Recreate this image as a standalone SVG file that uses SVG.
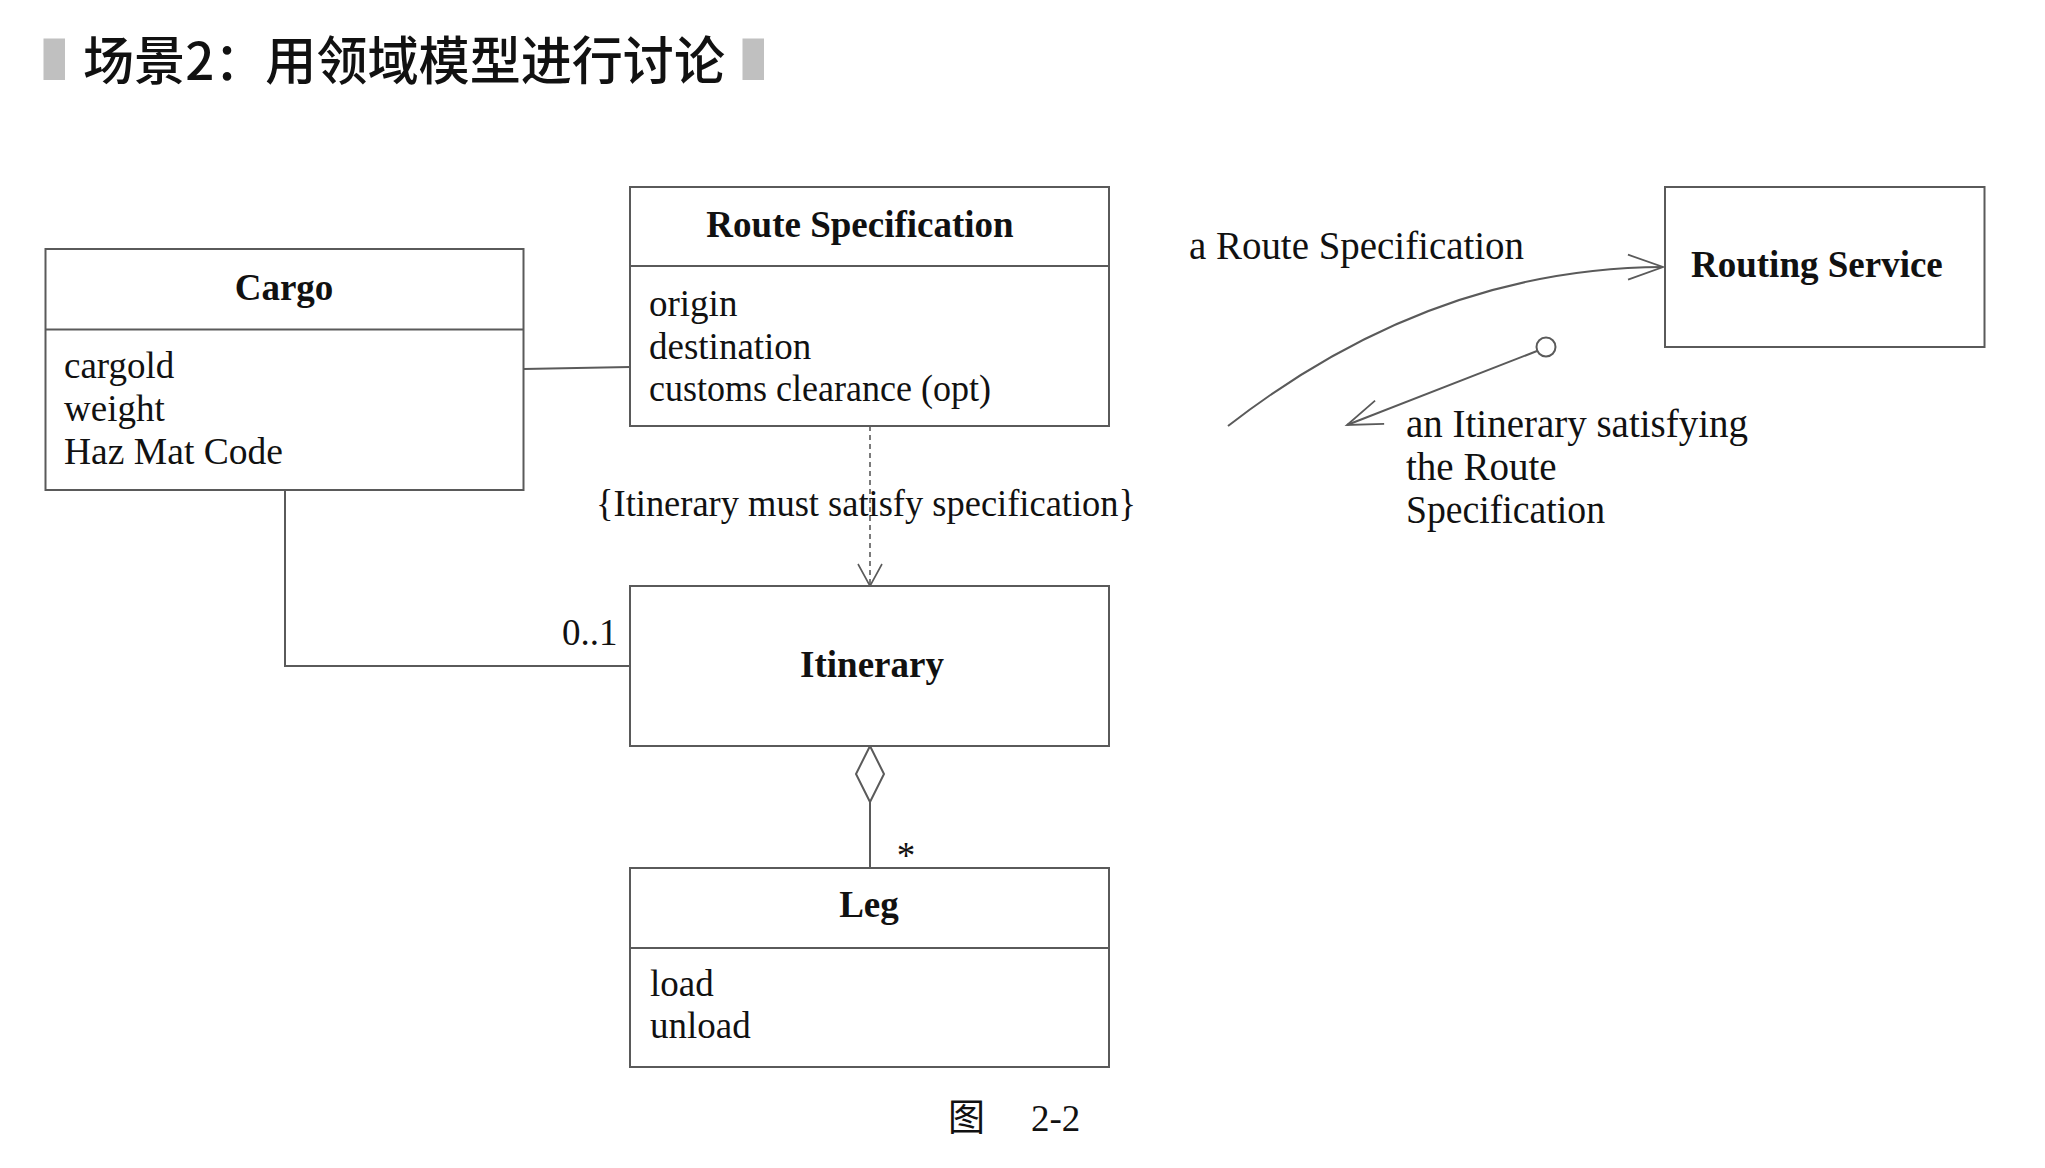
<svg xmlns="http://www.w3.org/2000/svg" width="2045" height="1168" viewBox="0 0 2045 1168">
<style>
.box{fill:#fff;stroke:#5a5a5a;stroke-width:2}
.ln{fill:none;stroke:#5a5a5a;stroke-width:2}
.dash{fill:none;stroke:#5a5a5a;stroke-width:1.6;stroke-dasharray:5 4}
.b{font-family:"Liberation Serif","Times New Roman",serif;font-weight:bold;font-size:37px;fill:#111}
.r{font-family:"Liberation Serif","Times New Roman",serif;font-size:37px;fill:#111}
.rr{font-family:"Liberation Serif","Times New Roman",serif;font-size:39px;fill:#111}
.bar{fill:#c0c0c0}
</style>
<defs>
<marker id="arrS" markerUnits="userSpaceOnUse" orient="auto" refX="0" refY="0" markerWidth="30" markerHeight="30" overflow="visible">
<path d="M-22,-12 L0,0 L-22,12" fill="none" stroke="#5a5a5a" stroke-width="1.6"/>
</marker>
<marker id="arrL" markerUnits="userSpaceOnUse" orient="auto" refX="0" refY="0" markerWidth="40" markerHeight="30" overflow="visible">
<path d="M-35,-12.5 L0,0 L-35,12.5" fill="none" stroke="#5a5a5a" stroke-width="1.8"/>
</marker>
</defs>
<rect width="2045" height="1168" fill="#fff"/>
<g id="title">
<rect class="bar" x="43.5" y="38.5" width="21.5" height="41.5"/>
<text x="83" y="80" font-family="'Noto Sans CJK SC',sans-serif" font-size="52" font-weight="500" fill="#111" textLength="642" lengthAdjust="spacingAndGlyphs">场景2：用领域模型进行讨论</text>
<rect class="bar" x="742.5" y="38.5" width="21.5" height="41.5"/>
</g>
<g id="connectors">
<line class="ln" x1="523.5" y1="369" x2="630" y2="367"/>
<polyline class="ln" points="285,490 285,666 630,666"/>
<text class="r" x="562" y="644.5">0..1</text>
<line class="dash" x1="870" y1="426" x2="870" y2="586" marker-end="url(#arrS)"/>
<text class="r" x="596" y="516" font-size="36.5" textLength="540" lengthAdjust="spacingAndGlyphs">{Itinerary must satisfy specification}</text>
<line class="ln" x1="870" y1="802" x2="870" y2="868"/>
<polygon class="box" points="870,746 884,774 870,802 856,774"/>
<text class="r" x="906" y="868" text-anchor="middle">*</text>
<path class="ln" d="M1228,426 C1300,370 1450,268 1663,267" marker-end="url(#arrL)"/>
<text class="rr" x="1189" y="259" textLength="335" lengthAdjust="spacingAndGlyphs">a Route Specification</text>
<line class="ln" x1="1537" y1="351" x2="1347" y2="425" marker-end="url(#arrL)"/>
<circle class="box" cx="1546" cy="347" r="9.5"/>
<text class="rr" x="1406" y="437" textLength="342" lengthAdjust="spacingAndGlyphs">an Itinerary satisfying</text>
<text class="rr" x="1406" y="480">the Route</text>
<text class="rr" x="1406" y="522.5" textLength="199" lengthAdjust="spacingAndGlyphs">Specification</text>
</g>
<g id="cargo">
<rect class="box" x="45.5" y="249" width="478" height="241"/>
<line class="ln" x1="45.5" y1="329.5" x2="523.5" y2="329.5"/>
<text class="b" x="284" y="300" text-anchor="middle">Cargo</text>
<text class="r" x="64" y="378">cargold</text>
<text class="r" x="64" y="421">weight</text>
<text class="r" x="64" y="464" textLength="219" lengthAdjust="spacingAndGlyphs">Haz Mat Code</text>
</g>
<g id="route-specification">
<rect class="box" x="630" y="187" width="479" height="239"/>
<line class="ln" x1="630" y1="266" x2="1109" y2="266"/>
<text class="b" x="860" y="236.5" text-anchor="middle">Route Specification</text>
<text class="r" x="649" y="316">origin</text>
<text class="r" x="649" y="359">destination</text>
<text class="r" x="649" y="401" textLength="342" lengthAdjust="spacingAndGlyphs">customs clearance (opt)</text>
</g>
<g id="itinerary">
<rect class="box" x="630" y="586" width="479" height="160"/>
<text class="b" x="872" y="677" text-anchor="middle">Itinerary</text>
</g>
<g id="leg">
<rect class="box" x="630" y="868" width="479" height="199"/>
<line class="ln" x1="630" y1="948" x2="1109" y2="948"/>
<text class="b" x="869" y="917" text-anchor="middle">Leg</text>
<text class="r" x="650" y="995.5">load</text>
<text class="r" x="650" y="1038">unload</text>
</g>
<g id="routing-service">
<rect class="box" x="1665" y="187" width="319.5" height="160"/>
<text class="b" x="1691" y="277">Routing Service</text>
</g>
<g id="caption">
<text x="948" y="1130.5" font-family="'Liberation Serif','Noto Sans CJK SC',serif" font-size="37" fill="#111">图</text>
<text class="r" x="1031" y="1130.5" font-size="40.5">2-2</text>
</g>
</svg>
